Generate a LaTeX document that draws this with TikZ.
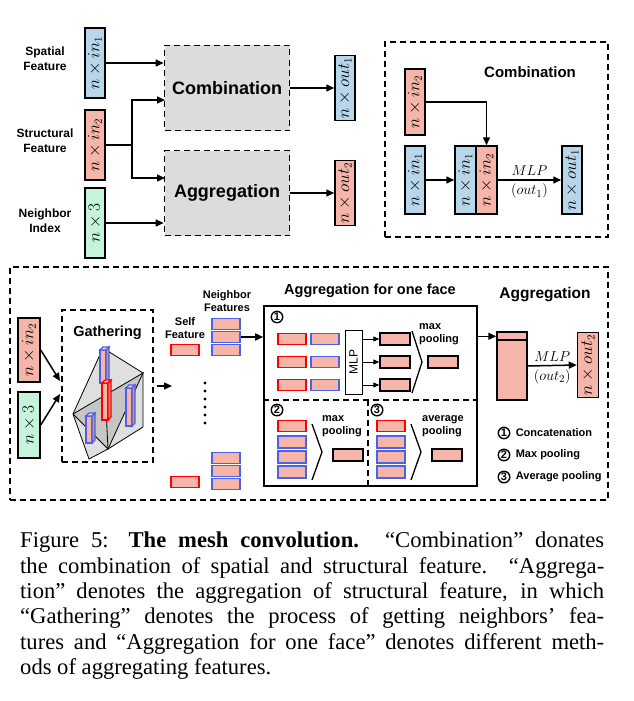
\documentclass[tikz,border=0pt]{standalone}
\usepackage{fontspec}
\setmainfont{Liberation Serif}
\setsansfont{Liberation Sans}
\usetikzlibrary{arrows.meta}
\definecolor{bl}{HTML}{B8D6EA}
\definecolor{rd}{HTML}{F5B5A8}
\definecolor{gn}{HTML}{C6F3DC}
\definecolor{gy}{HTML}{DCDCDC}
\definecolor{bb}{HTML}{4A62E8}
\begin{document}
\begin{tikzpicture}[x=1pt,y=-1pt,
  >={Triangle[length=8pt,width=7pt]},
  feat/.style={draw,line width=1.5pt,rotate=90,inner sep=0pt,minimum height=20pt,font=\fontsize{16}{16}\selectfont},
  lab/.style={font=\sffamily\bfseries\fontsize{12}{15}\selectfont,align=center},
  big/.style={font=\sffamily\bfseries\fontsize{18}{20}\selectfont},
  mid/.style={font=\sffamily\bfseries\fontsize{14.5}{16}\selectfont},
  sm/.style={font=\sffamily\bfseries\fontsize{11}{12.5}\selectfont,align=left},
  dbox/.style={draw,line width=1.6pt,dash pattern=on 6pt off 4pt},
  rr/.style={draw=red,line width=1.7pt,fill=rd,minimum width=28pt,minimum height=11pt,inner sep=0pt},
  br/.style={draw=bb,line width=1.7pt,fill=rd,minimum width=28pt,minimum height=11pt,inner sep=0pt},
  kr/.style={draw,line width=1.4pt,fill=rd,minimum width=30pt,minimum height=12pt,inner sep=0pt},
  circ/.style={circle,draw,line width=1.4pt,inner sep=0.6pt,font=\sffamily\bfseries\fontsize{11}{11}\selectfont},
  ar/.style={->,line width=1.5pt}]
\useasboundingbox (0,0) rectangle (634,701);
% ---------- top left ----------
\node[lab] (spl) at (45,59) {Spatial\\Feature};
\node[lab] (stl) at (45,141) {Structural\\Feature};
\node[lab] (nil) at (45,221) {Neighbor\\Index};
\node[feat,fill=bl,minimum width=70pt] (sp) at (95,63) {$n\times in_1$};
\node[feat,fill=rd,minimum width=70pt] (st) at (95,145) {$n\times in_2$};
\node[feat,fill=gn,minimum width=70pt] (ni) at (95,223) {$n\times 3$};
\node[dbox,fill=gy,minimum width=125pt,minimum height=85pt,big] (comb) at (227,88) {Combination};
\node[dbox,fill=gy,minimum width=125pt,minimum height=85pt,big] (aggr) at (227,193) {Aggregation};
\node[feat,fill=bl,minimum width=65pt] (o1) at (345,88) {$n\times out_1$};
\node[feat,fill=rd,minimum width=65pt] (o2) at (345,193) {$n\times out_2$};
\coordinate (j) at (132,145);
\draw[ar] (sp.south) -- (sp.south -| comb.west);
\draw[line width=1.5pt] (st.south) -- (j);
\draw[ar] (j) |- (165,100);
\draw[ar] (j) |- (165,178);
\draw[ar] (ni.south) -- (ni.south -| aggr.west);
\draw[ar] (comb.east) -- (o1.north);
\draw[ar] (aggr.east) -- (o2.north);
% ---------- top right ----------
\node[dbox,minimum width=223pt,minimum height=195pt] (cbox) at (496.5,139.5) {};
\node[font=\sffamily\bfseries\fontsize{15}{17}\selectfont] (ct) at (530,72) {Combination};
\node[feat,fill=rd,minimum width=66pt] (a2) at (415,102) {$n\times in_2$};
\node[feat,fill=bl,minimum width=68pt] (a1) at (415,180) {$n\times in_1$};
\node[feat,fill=bl,minimum width=68pt,minimum height=21pt] (c1) at (465.5,180) {$n\times in_1$};
\node[feat,fill=rd,minimum width=68pt,minimum height=21pt] (c2) at (486.5,180) {$n\times in_2$};
\node[feat,fill=bl,minimum width=68pt] (b1) at (572,180) {$n\times out_1$};
\draw[ar] (a2.south) -| (c2.east);
\draw[ar] (a1.south) -- (c1.north);
\draw[ar] (c2.south) -- node[above,font=\fontsize{15}{15}\selectfont]{$MLP$} node[below,font=\fontsize{15}{15}\selectfont]{$(out_1)$} (b1.north);
% ---------- bottom ----------
\node[dbox,minimum width=598pt,minimum height=233pt] (bbox) at (309,383.5) {};
\node[feat,fill=rd,minimum width=64pt,minimum height=22pt] (g2) at (29,350) {$n\times in_2$};
\node[feat,fill=gn,minimum width=66pt,minimum height=22pt] (g3) at (29,425) {$n\times 3$};
\node[dbox,minimum width=91pt,minimum height=152pt] (gath) at (107.5,386) {};
\node[mid] (gt) at (107.5,333) {Gathering};
\draw[ar] (g2.south) -- (60,381);
\draw[ar] (g3.south) -- (60,394);
% mesh
\fill[gray!25] (73,414)--(103,348)--(143,373)--(143,427)--(108,449)--(89,459)--cycle;
\fill[gray!45] (73,414)--(143,373)--(108,449)--cycle;
\draw[line width=0.8pt] (73,414)--(103,348)--(143,373)--(143,427)--(108,449)--(89,459)--cycle;
\draw[line width=0.8pt] (73,414)--(143,373)--(108,449)--(73,414);
\draw[line width=0.8pt] (103,348)--(108,449);
% bars
\foreach \x/\ya/\yb/\c in {100/350/383/bb,86/416/443/bb,126/388/426/bb,102/383/420/red}{
  \draw[draw=\c,line width=1.3pt,fill=rd] (\x,\ya) rectangle (\x+6,\yb);
  \draw[draw=\c,line width=1.3pt,fill=rd!60] (\x,\ya)--(\x+3,\ya-3)--(\x+9,\ya-3)--(\x+6,\ya)--cycle;
  \draw[draw=\c,line width=1.3pt,fill=rd!80!black] (\x+6,\ya)--(\x+9,\ya-3)--(\x+9,\yb-3)--(\x+6,\yb)--cycle;
}
\coordinate (ge) at (172,386);
\draw[ar] (157,386) -- (ge);
\node[sm,align=center] (sfl) at (185,328) {Self\\Feature};
\node[sm,align=center] (nfl) at (227,301) {Neighbor\\Features};
\node[rr] (sf) at (185,350) {};
\node[br] (n1) at (226,324) {};
\node[br] (n2) at (226,337) {};
\node[br] (n3) at (226,350) {};
\foreach \yy in {383,391,399,407,415,423} \fill (205,\yy) circle (1.7pt);
\node[rr] (sf2) at (185,482) {};
\node[br] (m1) at (226,458) {};
\node[br] (m2) at (226,471) {};
\node[br] (m3) at (226,484) {};
% aggregation for one face
\node[mid] (aft) at (370,291) {Aggregation for one face};
\node[draw,line width=1.6pt,minimum width=213pt,minimum height=180pt] (af) at (370.5,396) {};
\draw[line width=1.4pt,dash pattern=on 6pt off 4pt] (af.west |- 0,400) -- (af.east |- 0,400);
\draw[line width=1.4pt,dash pattern=on 6pt off 4pt] (368,400) -- (368,486);
\draw[ar] (n2.east) -- (af.west |- n2);
\node[circ] (c1n) at (277,317) {1};
\node[draw,fill=white,minimum width=17pt,minimum height=64pt,inner sep=0pt] (mlp) at (353.5,362) {};
\node[rotate=90,font=\sffamily\fontsize{12}{12}\selectfont] at (mlp) {MLP};
\foreach \i/\yy in {1/339,2/362,3/385}{
  \node[rr] (r\i) at (292,\yy) {};
  \node[br] (b\i) at (325,\yy) {};
  \node[kr,minimum width=30pt] (k\i) at (395,\yy) {};
  \draw[ar,line width=0.9pt,>={Triangle[length=6pt,width=5pt]}] (mlp.east |- k\i) -- (k\i.west);
}
\draw[line width=1.3pt] (412,331)--(422,362)--(412,393);
\node[sm] (mp1) at (439,334) {max\\pooling};
\node[kr] (p1) at (443,362) {};
% section 2
\node[circ] (c2n) at (277,410) {2};
\node[rr] (s2r) at (292,426) {};
\foreach \i/\yy in {1/442,2/457,3/472}{\node[br,minimum height=12pt] (s2b\i) at (292,\yy) {};}
\draw[line width=1.3pt] (312,424)--(322,452)--(312,480);
\node[sm] (mp2) at (342,426) {max\\pooling};
\node[kr] (p2) at (348,455) {};
% section 3
\node[circ] (c3n) at (377,410) {3};
\node[rr] (s3r) at (391,426) {};
\foreach \i/\yy in {1/442,2/457,3/472}{\node[br,minimum height=12pt] (s3b\i) at (391,\yy) {};}
\draw[line width=1.3pt] (411,424)--(421,452)--(411,480);
\node[sm] (ap) at (443,426) {average\\pooling};
\node[kr] (p3) at (447,455) {};
% aggregation
\node[font=\sffamily\bfseries\fontsize{15.5}{17}\selectfont] (agt) at (545,295) {Aggregation};
\node[draw,line width=1.5pt,fill=rd,minimum width=30pt,minimum height=68pt,inner sep=0pt] (tall) at (512,366) {};
\draw[line width=1.5pt] (497,340) -- (527,340);
\draw[ar] (af.east |- tall.north west) ++(0,5) coordinate (q) -- (q -| tall.west);
\node[feat,fill=rd,minimum width=65pt,minimum height=21pt] (bo2) at (588,365) {$n\times out_2$};
\draw[ar] (tall.east) -- node[above,font=\fontsize{15}{15}\selectfont]{$MLP$} node[below,font=\fontsize{15}{15}\selectfont]{$(out_2)$} (bo2.north);
\node[circ] (l1) at (504,433) {1};
\node[circ] (l2) at (504,455) {2};
\node[circ] (l3) at (504,477) {3};
\node[sm,anchor=west] at (l1.east) {\,Concatenation};
\node[sm,anchor=west] at (l2.east) {\,Max pooling};
\node[sm,anchor=west] at (l3.east) {\,Average pooling};
% caption
\node[anchor=north west,text width=584pt,inner sep=0pt,font=\fontsize{22.6}{25.3}\selectfont,align=justify] (cap) at (20,532) {Figure 5: \textbf{The mesh convolution.} “Combination” donates the combination of spatial and structural feature. “Aggrega-\linebreak tion” denotes the aggregation of structural feature, in which “Gathering” denotes the process of getting neighbors’ fea-\linebreak tures and “Aggregation for one face” denotes different meth-\linebreak ods of aggregating features.};
\end{tikzpicture}
\end{document}
